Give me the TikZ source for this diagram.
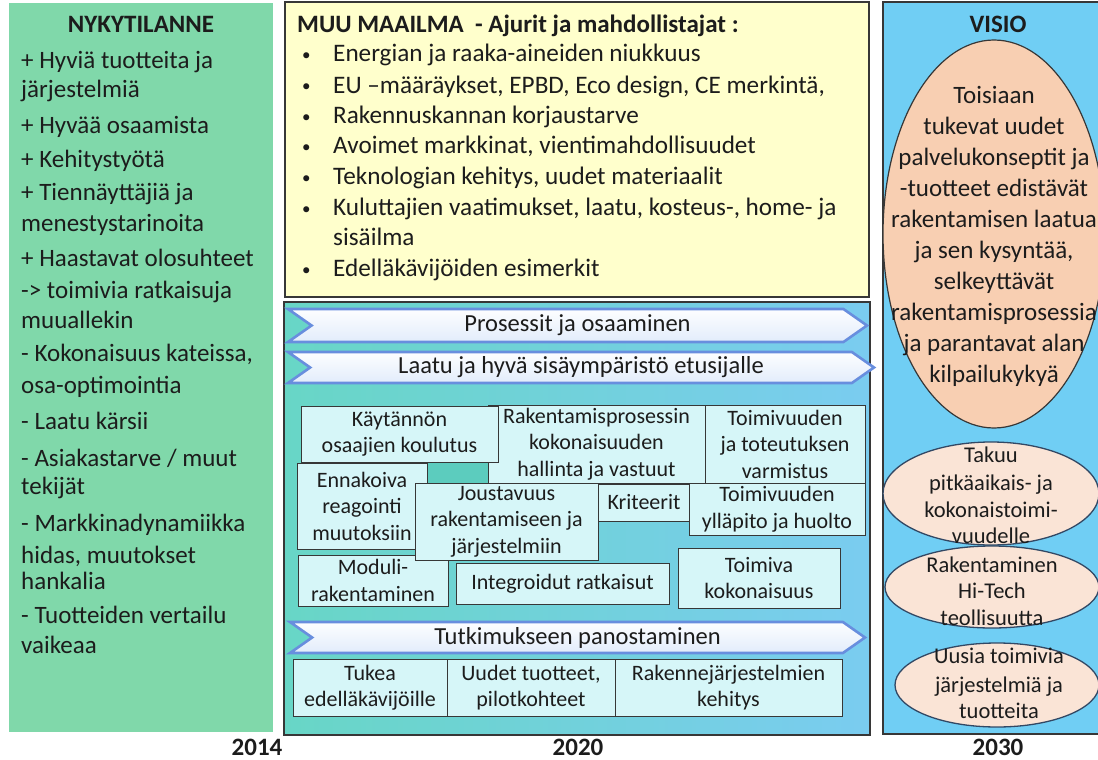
\documentclass[tikz,border=0pt]{standalone}
\usepackage{fontspec}
\setmainfont{Carlito}
\usetikzlibrary{shapes.geometric,shapes.symbols}

\definecolor{nowgreen}{RGB}{128,216,170}
\definecolor{worldyellow}{RGB}{255,255,204}
\definecolor{tealL}{RGB}{104,214,198}
\definecolor{tealR}{RGB}{122,204,240}
\definecolor{tealpatch}{RGB}{92,204,190}
\definecolor{visioblue}{RGB}{112,206,244}
\definecolor{peach}{RGB}{248,207,178}
\definecolor{palepeach}{RGB}{250,228,214}
\definecolor{cellfill}{RGB}{214,246,248}
\definecolor{chevedge}{RGB}{104,142,222}
\definecolor{chevtop}{RGB}{253,254,255}
\definecolor{chevbot}{RGB}{226,236,251}
\definecolor{ink}{RGB}{28,28,28}
\definecolor{frame}{RGB}{55,55,55}
\definecolor{ovaledge}{RGB}{50,72,100}

\begin{document}
\begin{tikzpicture}[x=1pt,y=-1pt,
  panel/.style={rectangle, inner sep=0pt, draw=frame, line width=1.3pt},
  cell/.style={rectangle, draw=frame, line width=0.9pt, fill=cellfill, align=center,
    inner sep=0pt, text=ink, font=\fontsize{22}{26.5}\selectfont},
  chev/.style={signal, signal to=east, signal from=west, signal pointer angle=70,
    draw=chevedge, line width=2.6pt, top color=chevtop, bottom color=chevbot,
    inner sep=0pt, text=ink, font=\fontsize{24.5}{29}\selectfont},
  oval/.style={ellipse, draw=ovaledge, line width=1.3pt, fill=palepeach, inner sep=0pt},
  txt/.style={inner sep=0pt, text=ink, font=\fontsize{25}{31}\selectfont},
  worldtxt/.style={inner sep=0pt, text=ink, font=\fontsize{25.2}{31}\selectfont},
  bullet/.style={inner sep=0pt, text=ink, font=\fontsize{17}{20}\selectfont},
  ovaltxt/.style={inner sep=0pt, text=ink, font=\fontsize{25}{31}\selectfont, anchor=base},
  smalltxt/.style={inner sep=0pt, text=ink, font=\fontsize{22.5}{27}\selectfont, anchor=base},
  head/.style={inner sep=0pt, text=ink, font=\bfseries\fontsize{25}{31}\selectfont},
  year/.style={inner sep=0pt, text=ink, font=\bfseries\fontsize{25}{30}\selectfont, anchor=base}]

\useasboundingbox (0,0) rectangle (1098,760);

% ---------- panels ----------
\node[rectangle, inner sep=0pt, fill=nowgreen, minimum width=264pt, minimum height=729pt]
  (now) at (141,367.5) {};
\node[panel, fill=worldyellow, minimum width=584pt, minimum height=295pt]
  (world) at (577,149.5) {};
\node[panel, left color=tealL, right color=tealR, minimum width=586pt, minimum height=433pt]
  (plan) at (577,518.5) {};
\node[panel, fill=visioblue, minimum width=224pt, minimum height=732pt]
  (vision) at (995,368) {};

% ---------- present state ----------
\node[head, anchor=base] (nowhead) at (141,33) {NYKYTILANNE};
\foreach \yy/\linetext [count=\i] in {
  69/{+ Hyviä tuotteita ja},
  98/{järjestelmiä},
  133/{+ Hyvää osaamista},
  167/{+ Kehitystyötä},
  200/{+ Tiennäyttäjiä ja},
  231/{menestystarinoita},
  266/{+ Haastavat olosuhteet},
  298/{-> toimivia ratkaisuja},
  328/{muuallekin},
  361/{- Kokonaisuus kateissa,},
  393/{osa-optimointia},
  429/{- Laatu kärsii},
  466/{- Asiakastarve / muut},
  494/{tekijät},
  531/{- Markkinadynamiikka},
  563/{hidas, muutokset},
  589/{hankalia},
  623/{- Tuotteiden vertailu},
  653/{vaikeaa}}
  \node[txt, anchor=base west] (nowline\i) at (21,\yy) {\linetext};

% ---------- outside world ----------
\node[head, anchor=base west] (worldhead) at (297,33)
  {MUU MAAILMA\ \ - Ajurit ja mahdollistajat :};
\foreach \yy in {62,93,123,153,184,215,276}
  \node[bullet, anchor=base west] at (302,\yy-1) {•};
\foreach \yy/\linetext [count=\i] in {
  62/{Energian ja raaka-aineiden niukkuus},
  93/{EU –määräykset, EPBD, Eco design, CE merkintä,},
  123/{Rakennuskannan korjaustarve},
  153/{Avoimet markkinat, vientimahdollisuudet},
  184/{Teknologian kehitys, uudet materiaalit},
  215/{Kuluttajien vaatimukset, laatu, kosteus-, home- ja},
  245/{sisäilma},
  276/{Edelläkävijöiden esimerkit}}
  \node[worldtxt, anchor=base west] (worldline\i) at (333,\yy) {\linetext};

% ---------- 2020 plan ----------
\node[chev, minimum width=579pt, minimum height=33pt] (proc) at (577.5,325.5)
  {Prosessit ja osaaminen};
\node[chev, minimum width=586pt, minimum height=31pt] (qual) at (581,367.5)
  {Laatu ja hyvä sisäympäristö etusijalle};

\fill[tealpatch] (428,463) rectangle (488,484);

\node[cell, minimum width=217pt, minimum height=78pt] (proj) at (596.5,444)
  {Rakentamisprosessin\\kokonaisuuden\\hallinta ja vastuut};
\node[cell, minimum width=160pt, minimum height=78pt] (verify) at (785,444)
  {Toimivuuden\\ja toteutuksen\\varmistus};
\node[cell, minimum width=197pt, minimum height=56pt] (train) at (399.5,434)
  {Käytännön\\osaajien koulutus};
\node[cell, minimum width=130pt, minimum height=86pt] (react) at (362,506)
  {Ennakoiva\\reagointi\\muutoksiin};
\node[cell, minimum width=150pt, minimum height=51pt] (modul) at (373,580.5)
  {Moduli-\\rakentaminen};
\node[cell, minimum width=92pt, minimum height=37pt] (crit) at (644,502.5)
  {Kriteerit};
\node[cell, minimum width=176pt, minimum height=52pt] (maint) at (777,509)
  {Toimivuuden\\ylläpito ja huolto};
\node[cell, minimum width=183pt, minimum height=77pt] (flex) at (506.5,521.5)
  {Joustavuus\\rakentamiseen ja\\järjestelmiin};
\node[cell, minimum width=213pt, minimum height=41pt] (integ) at (562.5,583.5)
  {Integroidut ratkaisut};
\node[cell, minimum width=162pt, minimum height=60pt] (whole) at (759,578)
  {Toimiva\\kokonaisuus};

\node[chev, minimum width=575pt, minimum height=31pt] (research) at (577.5,637.5)
  {Tutkimukseen panostaminen};

\node[cell, minimum width=154pt, minimum height=57pt] (lead) at (370,687.5)
  {Tukea\\edelläkävijöille};
\node[cell, minimum width=168pt, minimum height=57pt] (pilot) at (531,687.5)
  {Uudet tuotteet,\\pilotkohteet};
\node[cell, minimum width=227pt, minimum height=57pt] (struct) at (728.5,687.5)
  {Rakennejärjestelmien\\kehitys};

% ---------- vision ----------
\node[head, anchor=base] (visionhead) at (998,33) {VISIO};
\node[ellipse, draw=frame, line width=1.2pt, fill=peach, inner sep=0pt,
  minimum width=222pt, minimum height=388pt] (bigoval) at (994,234) {};
\foreach \yy/\linetext [count=\i] in {
  103/{Toisiaan},
  134/{tukevat uudet},
  165/{palvelukonseptit ja},
  196/{-tuotteet edistävät},
  227/{rakentamisen laatua},
  258/{ja sen kysyntää,},
  289/{selkeyttävät},
  320/{rakentamisprosessia},
  351/{ja parantavat alan},
  382/{kilpailukykyä}}
  \node[ovaltxt] (visionline\i) at (994,\yy) {\linetext};

\node[oval, minimum width=216pt, minimum height=103pt] (guar) at (991,493.5) {};
\node[smalltxt] (guar1) at (991,462) {Takuu};
\node[smalltxt] (guar2) at (991,490) {pitkäaikais- ja};
\node[smalltxt] (guar3) at (991,517) {kokonaistoimi-};
\node[smalltxt] (guar4) at (991,543) {vuudelle};

\node[oval, minimum width=214pt, minimum height=82pt] (hitech) at (992,587) {};
\node[smalltxt] (hitech1) at (992,572) {Rakentaminen};
\node[smalltxt] (hitech2) at (992,598) {Hi-Tech};
\node[smalltxt] (hitech3) at (992,625) {teollisuutta};

\node[oval, minimum width=204pt, minimum height=84pt] (newsys) at (997,685) {};
\node[smalltxt] (newsys1) at (999,663) {Uusia toimivia};
\node[smalltxt] (newsys2) at (999,692) {järjestelmiä ja};
\node[smalltxt] (newsys3) at (999,718) {tuotteita};

% ---------- time axis ----------
\node[year] (y2014) at (257,755) {2014};
\node[year] (y2020) at (578,755) {2020};
\node[year] (y2030) at (998,755) {2030};
\end{tikzpicture}
\end{document}
